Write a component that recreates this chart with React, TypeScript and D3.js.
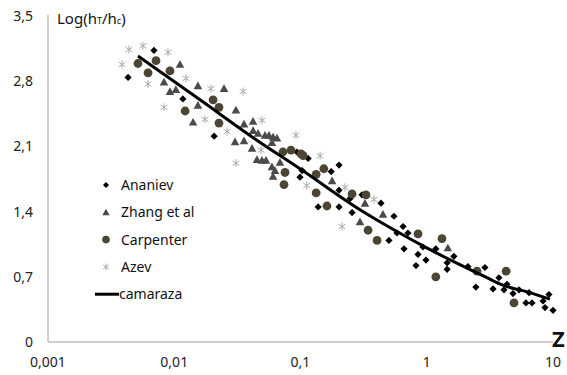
import * as d3 from "d3";
import { useEffect, useRef } from "react";

type Pt = [number, number];

// [Z, Log(hT/hc)]
const ananiev: Pt[] = [
  [0.00431, 2.84], [0.00691, 3.13], [0.0117, 2.61], [0.0207, 2.21], [0.0938, 2.04],
  [0.115, 1.97], [0.103, 1.84], [0.0991, 1.77], [0.202, 1.9], [0.175, 1.83],
  [0.202, 1.63], [0.307, 1.58], [0.247, 1.54], [0.138, 1.45], [0.202, 1.45],
  [0.434, 1.49], [0.256, 1.39], [0.55, 1.35], [0.649, 1.24], [0.71, 1.17],
  [0.581, 1.17], [0.502, 1.09], [0.661, 1.0], [0.933, 1.02], [1.18, 1.0],
  [0.853, 0.94], [0.986, 0.88], [0.822, 0.82], [1.64, 0.92], [1.45, 0.85],
  [2.12, 0.81], [2.89, 0.8], [1.45, 0.78], [3.73, 0.69], [2.45, 0.59],
  [3.35, 0.57], [4.32, 0.62], [4.09, 0.56], [4.82, 0.52], [5.38, 0.56],
  [6.46, 0.53], [6.11, 0.42], [6.82, 0.42], [9.29, 0.51], [8.34, 0.44],
  [8.65, 0.37], [10.0, 0.34],
];

const zhang: Pt[] = [
  [0.0111, 2.98], [0.00829, 2.79], [0.00925, 2.69], [0.0103, 2.71], [0.0154, 2.75],
  [0.0248, 2.72], [0.0154, 2.54], [0.0308, 2.49], [0.0141, 2.36], [0.0357, 2.34],
  [0.0421, 2.37], [0.0421, 2.27], [0.0461, 2.24], [0.0303, 2.15], [0.0357, 2.16],
  [0.0523, 2.22], [0.0563, 2.22], [0.0606, 2.2], [0.0651, 2.19], [0.0594, 2.14],
  [0.0413, 2.08], [0.0452, 1.96], [0.0495, 1.95], [0.0533, 1.95], [0.0594, 1.88],
  [0.0628, 1.84], [0.0606, 1.78], [0.0688, 1.93], [0.178, 1.73], [0.324, 1.49],
  [0.45, 1.37], [0.296, 1.29], [1.47, 1.01],
];

const carpenter: Pt[] = [
  [0.00516, 2.99], [0.00717, 3.02], [0.0062, 2.89], [0.00925, 2.91], [0.0203, 2.6],
  [0.0226, 2.52], [0.0122, 2.48], [0.0226, 2.35], [0.0726, 2.04], [0.0841, 2.06],
  [0.101, 2.02], [0.105, 2.0], [0.0754, 1.82], [0.074, 1.69], [0.153, 1.86],
  [0.133, 1.8], [0.133, 1.6], [0.256, 1.59], [0.33, 1.58], [0.162, 1.46],
  [0.343, 1.2], [0.404, 1.09], [0.853, 1.16], [1.32, 1.11], [1.18, 0.7],
  [2.5, 0.76], [4.25, 0.76], [4.91, 0.42],
];

const azev: Pt[] = [
  [0.00438, 3.14], [0.00565, 3.18], [0.00892, 3.11], [0.00386, 2.98], [0.0062, 2.77],
  [0.0124, 2.83], [0.0195, 2.72], [0.0351, 2.69], [0.00829, 2.52], [0.0175, 2.39],
  [0.0262, 2.26], [0.0495, 2.38], [0.0921, 2.22], [0.0487, 2.06], [0.0308, 1.92],
  [0.143, 2.0], [0.112, 1.68], [0.225, 1.66], [0.382, 1.53], [0.213, 1.24],
];

const camaraza: Pt[] = [
  [0.00516, 3.07], [0.016, 2.6], [0.0436, 2.18], [0.0991, 1.86], [0.296, 1.42],
  [0.54, 1.21], [1.0, 1.01], [1.83, 0.83], [3.0, 0.69], [4.02, 0.61],
  [6.58, 0.53], [9.46, 0.46],
];

const xTicks = [0.001, 0.01, 0.1, 1, 10];
const xTickLabels = ["0,001", "0,01", "0,1", "1", "10"];
const yTicks = [0, 0.7, 1.4, 2.1, 2.8, 3.5];
const yTickLabels = ["0", "0,7", "1,4", "2,1", "2,8", "3,5"];
const seriesNames = ["Ananiev", "Zhang et al", "Carpenter", "Azev", "camaraza"];

const FONT = "'Noto Sans', 'Open Sans', sans-serif";

const diamond = (r: number) => `M0,${-r}L${r},0L0,${r}L${-r},0Z`;
const triangle = (r: number) => `M0,${-r}L${r},${r * 0.8}L${-r},${r * 0.8}Z`;
const star = (r: number) =>
  `M0,${-r}V${r}M${-r * 0.85},${-r * 0.6}L${r * 0.85},${r * 0.6}M${-r * 0.85},${r * 0.6}L${r * 0.85},${-r * 0.6}`;

export default function App() {
  const ref = useRef<SVGSVGElement | null>(null);

  useEffect(() => {
    const svg = d3.select(ref.current);
    svg.selectAll("*").remove();

    const x = d3.scaleLog().domain([0.001, 10]).range([48, 553]);
    const y = d3.scaleLinear().domain([0, 3.5]).range([342, 16]);

    // axes lines
    svg.append("line")
      .attr("x1", x(0.001)).attr("x2", x(0.001))
      .attr("y1", y(3.5) - 1).attr("y2", y(0))
      .attr("stroke", "#c0c0c0").attr("stroke-width", 1.5);
    svg.append("line")
      .attr("x1", x(0.001)).attr("x2", x(10))
      .attr("y1", y(0)).attr("y2", y(0))
      .attr("stroke", "#c0c0c0").attr("stroke-width", 1.5);

    yTicks.forEach((t, i) => {
      svg.append("text")
        .attr("x", 33).attr("y", y(t))
        .attr("dy", "0.35em")
        .attr("text-anchor", "end")
        .attr("font-family", FONT).attr("font-size", 14)
        .attr("fill", "#222")
        .text(yTickLabels[i]);
    });
    xTicks.forEach((t, i) => {
      svg.append("text")
        .attr("x", x(t)).attr("y", 367)
        .attr("text-anchor", "middle")
        .attr("font-family", FONT).attr("font-size", 14)
        .attr("fill", "#222")
        .text(xTickLabels[i]);
    });

    // axis titles
    const title = svg.append("text")
      .attr("x", 57).attr("y", 24)
      .attr("font-family", FONT).attr("font-size", 15)
      .attr("fill", "#111");
    title.append("tspan").text("Log(h");
    title.append("tspan").attr("font-size", 9).text("T");
    title.append("tspan").text("/h");
    title.append("tspan").attr("font-size", 9).text("c");
    title.append("tspan").text(")");

    svg.append("text")
      .attr("x", 552).attr("y", 347)
      .attr("font-family", FONT).attr("font-size", 22)
      .attr("font-weight", "bold").attr("fill", "#111")
      .text("Z");

    // series
    svg.append("g").selectAll("path").data(ananiev).enter().append("path")
      .attr("transform", d => `translate(${x(d[0])},${y(d[1])})`)
      .attr("d", diamond(3.6)).attr("fill", "#000");

    svg.append("g").selectAll("path").data(zhang).enter().append("path")
      .attr("transform", d => `translate(${x(d[0])},${y(d[1])})`)
      .attr("d", triangle(4.3)).attr("fill", "#4a4a4a");

    svg.append("g").selectAll("circle").data(carpenter).enter().append("circle")
      .attr("cx", d => x(d[0])).attr("cy", d => y(d[1]))
      .attr("r", 4.4).attr("fill", "#4c4533");

    svg.append("g").selectAll("path").data(azev).enter().append("path")
      .attr("transform", d => `translate(${x(d[0])},${y(d[1])})`)
      .attr("d", star(4)).attr("fill", "none")
      .attr("stroke", "#a8a8a8").attr("stroke-width", 1);

    const line = d3.line<Pt>()
      .x(d => x(d[0]))
      .y(d => y(d[1]))
      .curve(d3.curveMonotoneX);
    svg.append("path")
      .attr("d", line(camaraza) as string)
      .attr("fill", "none").attr("stroke", "#000").attr("stroke-width", 3);

    // legend
    const lg = svg.append("g").attr("font-family", FONT).attr("font-size", 14).attr("fill", "#111");
    const rowY = (i: number) => 185 + i * 27.3;
    lg.append("path").attr("transform", `translate(106,${rowY(0)})`).attr("d", diamond(3)).attr("fill", "#000");
    lg.append("path").attr("transform", `translate(106,${rowY(1)})`).attr("d", triangle(3.6)).attr("fill", "#4a4a4a");
    lg.append("circle").attr("cx", 106).attr("cy", rowY(2)).attr("r", 3.8).attr("fill", "#4c4533");
    lg.append("path").attr("transform", `translate(106,${rowY(3)})`).attr("d", star(3.3))
      .attr("fill", "none").attr("stroke", "#a8a8a8").attr("stroke-width", 1);
    lg.append("line").attr("x1", 95).attr("x2", 119).attr("y1", rowY(4)).attr("y2", rowY(4))
      .attr("stroke", "#000").attr("stroke-width", 3);
    seriesNames.forEach((n, i) => {
      lg.append("text")
        .attr("x", i === 4 ? 119 : 121).attr("y", rowY(i))
        .attr("dy", "0.35em")
        .text(n);
    });
  }, []);

  return (
    <svg
      ref={ref}
      width={567}
      height={375}
      viewBox="0 0 567 375"
      style={{ position: "absolute", left: 0, top: 0, background: "#fff" }}
    />
  );
}
